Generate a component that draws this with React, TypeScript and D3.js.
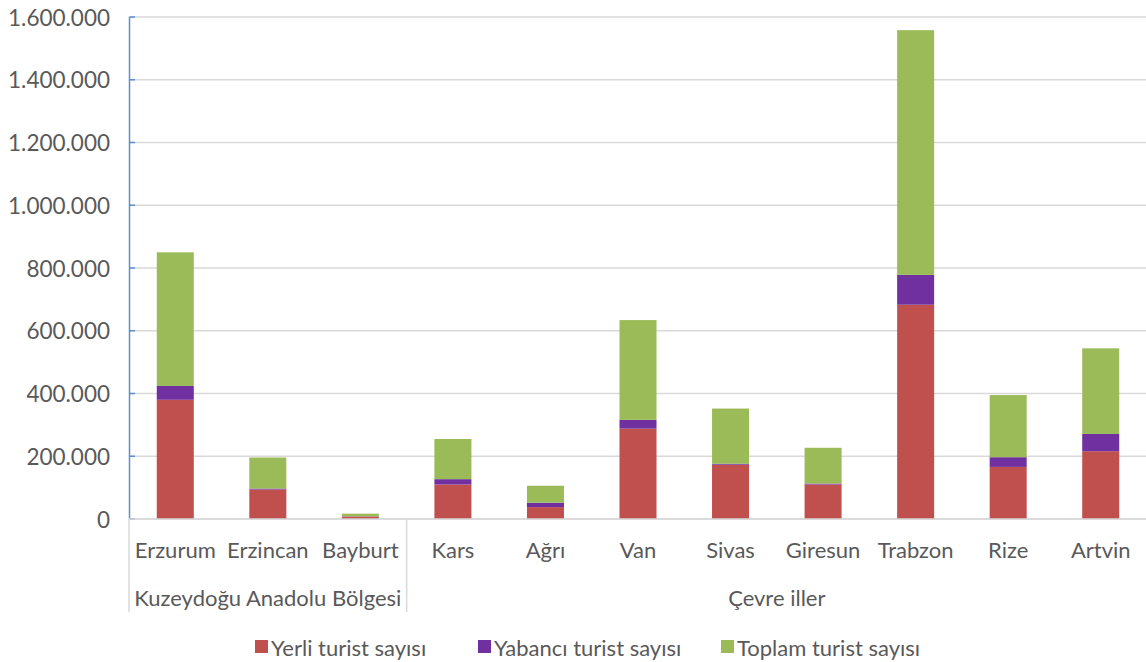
import React from "react";
import * as d3 from "d3";

const categories = ["Erzurum", "Erzincan", "Bayburt", "Kars", "Ağrı", "Van", "Sivas", "Giresun", "Trabzon", "Rize", "Artvin"];
const yerli = [380000, 94000, 8000, 110000, 38000, 288000, 173000, 110000, 683000, 166000, 216000];
const yabanci = [44000, 3000, 500, 17000, 14000, 28000, 3000, 3000, 95000, 31000, 55000];
const toplam = [426000, 99000, 8500, 128000, 54000, 318000, 176000, 114000, 780000, 198000, 273000];
const groups = [
  { name: "Kuzeydoğu Anadolu Bölgesi", start: 0, end: 3 },
  { name: "Çevre iller", start: 3, end: 11 },
];
const seriesNames = ["Yerli turist sayısı", "Yabancı turist sayısı", "Toplam turist sayısı"];
const seriesColors = ["#C0504D", "#7030A0", "#9BBB59"];
const yTicks = [0, 200000, 400000, 600000, 800000, 1000000, 1200000, 1400000, 1600000];

const W = 1146;
const H = 662;
const FONT = "Lato, 'Open Sans', sans-serif";
const TEXT = "#595959";

export default function App() {
  const x = d3.scaleBand<string>().domain(categories).range([129, 1147]).padding(0);
  const y = d3.scaleLinear().domain([0, 1600000]).range([519, 17]);
  const locale = d3.formatLocale({ decimal: ",", thousands: ".", grouping: [3], currency: ["", "₺"] });
  const fmt = locale.format(",d");

  const rows = categories.map((c, i) => ({ cat: c, yerli: yerli[i], yabanci: yabanci[i], toplam: toplam[i] }));
  const stack = d3.stack<any>().keys(["yerli", "yabanci", "toplam"]);
  const stacked = stack(rows);
  const bw = x.bandwidth() * 0.4;

  const step = x.step();
  const legendX = [255, 478, 721];

  return (
    <svg width={W} height={H} style={{ position: "absolute", left: 0, top: 0, background: "#fff" }} fontFamily={FONT}>
      {yTicks.map((t) => (
        <line key={"g" + t} x1={129} x2={W} y1={y(t)} y2={y(t)} stroke="#d9d9d9" strokeWidth={1.5} />
      ))}
      {stacked.map((s, si) => (
        <g key={si} fill={seriesColors[si]}>
          {s.map((d, i) => (
            <rect
              key={i}
              x={(x(categories[i]) as number) + (step - bw) / 2}
              y={y(d[1])}
              width={bw}
              height={y(d[0]) - y(d[1])}
            />
          ))}
        </g>
      ))}
      <line x1={129.5} x2={129.5} y1={y(1600000)} y2={519} stroke="#5B8FD0" strokeWidth={1.5} />
      {yTicks.map((t) => (
        <line key={"t" + t} x1={129.5} x2={135} y1={y(t)} y2={y(t)} stroke="#5B8FD0" strokeWidth={1.5} />
      ))}
      {yTicks.map((t) => (
        <text key={"l" + t} x={110} y={y(t)} textAnchor="end" dominantBaseline="central" fontSize={22.5} fill={TEXT}>
          {fmt(t)}
        </text>
      ))}
      <line x1={129} x2={W} y1={519} y2={519} stroke="#d9d9d9" strokeWidth={1.5} />
      {[0, 3, 11].map((b) => {
        const xx = b < categories.length ? (x(categories[b]) as number) : 1147;
        return <line key={"s" + b} x1={xx} x2={xx} y1={519} y2={612} stroke="#d9d9d9" strokeWidth={1.5} />;
      })}
      {categories.map((c) => (
        <text key={c} x={(x(c) as number) + step / 2} y={549} textAnchor="middle" dominantBaseline="central" fontSize={22} fill={TEXT}>
          {c}
        </text>
      ))}
      {groups.map((g) => {
        const x0 = x(categories[g.start]) as number;
        const x1 = g.end < categories.length ? (x(categories[g.end]) as number) : 1147;
        return (
          <text key={g.name} x={(x0 + x1) / 2} y={597} textAnchor="middle" dominantBaseline="central" fontSize={22} fill={TEXT}>
            {g.name}
          </text>
        );
      })}
      {seriesNames.map((n, i) => (
        <g key={n}>
          <rect x={legendX[i]} y={640} width={13} height={13} fill={seriesColors[i]} />
          <text x={legendX[i] + 16} y={647} dominantBaseline="central" fontSize={22} fill={TEXT}>
            {n}
          </text>
        </g>
      ))}
    </svg>
  );
}
